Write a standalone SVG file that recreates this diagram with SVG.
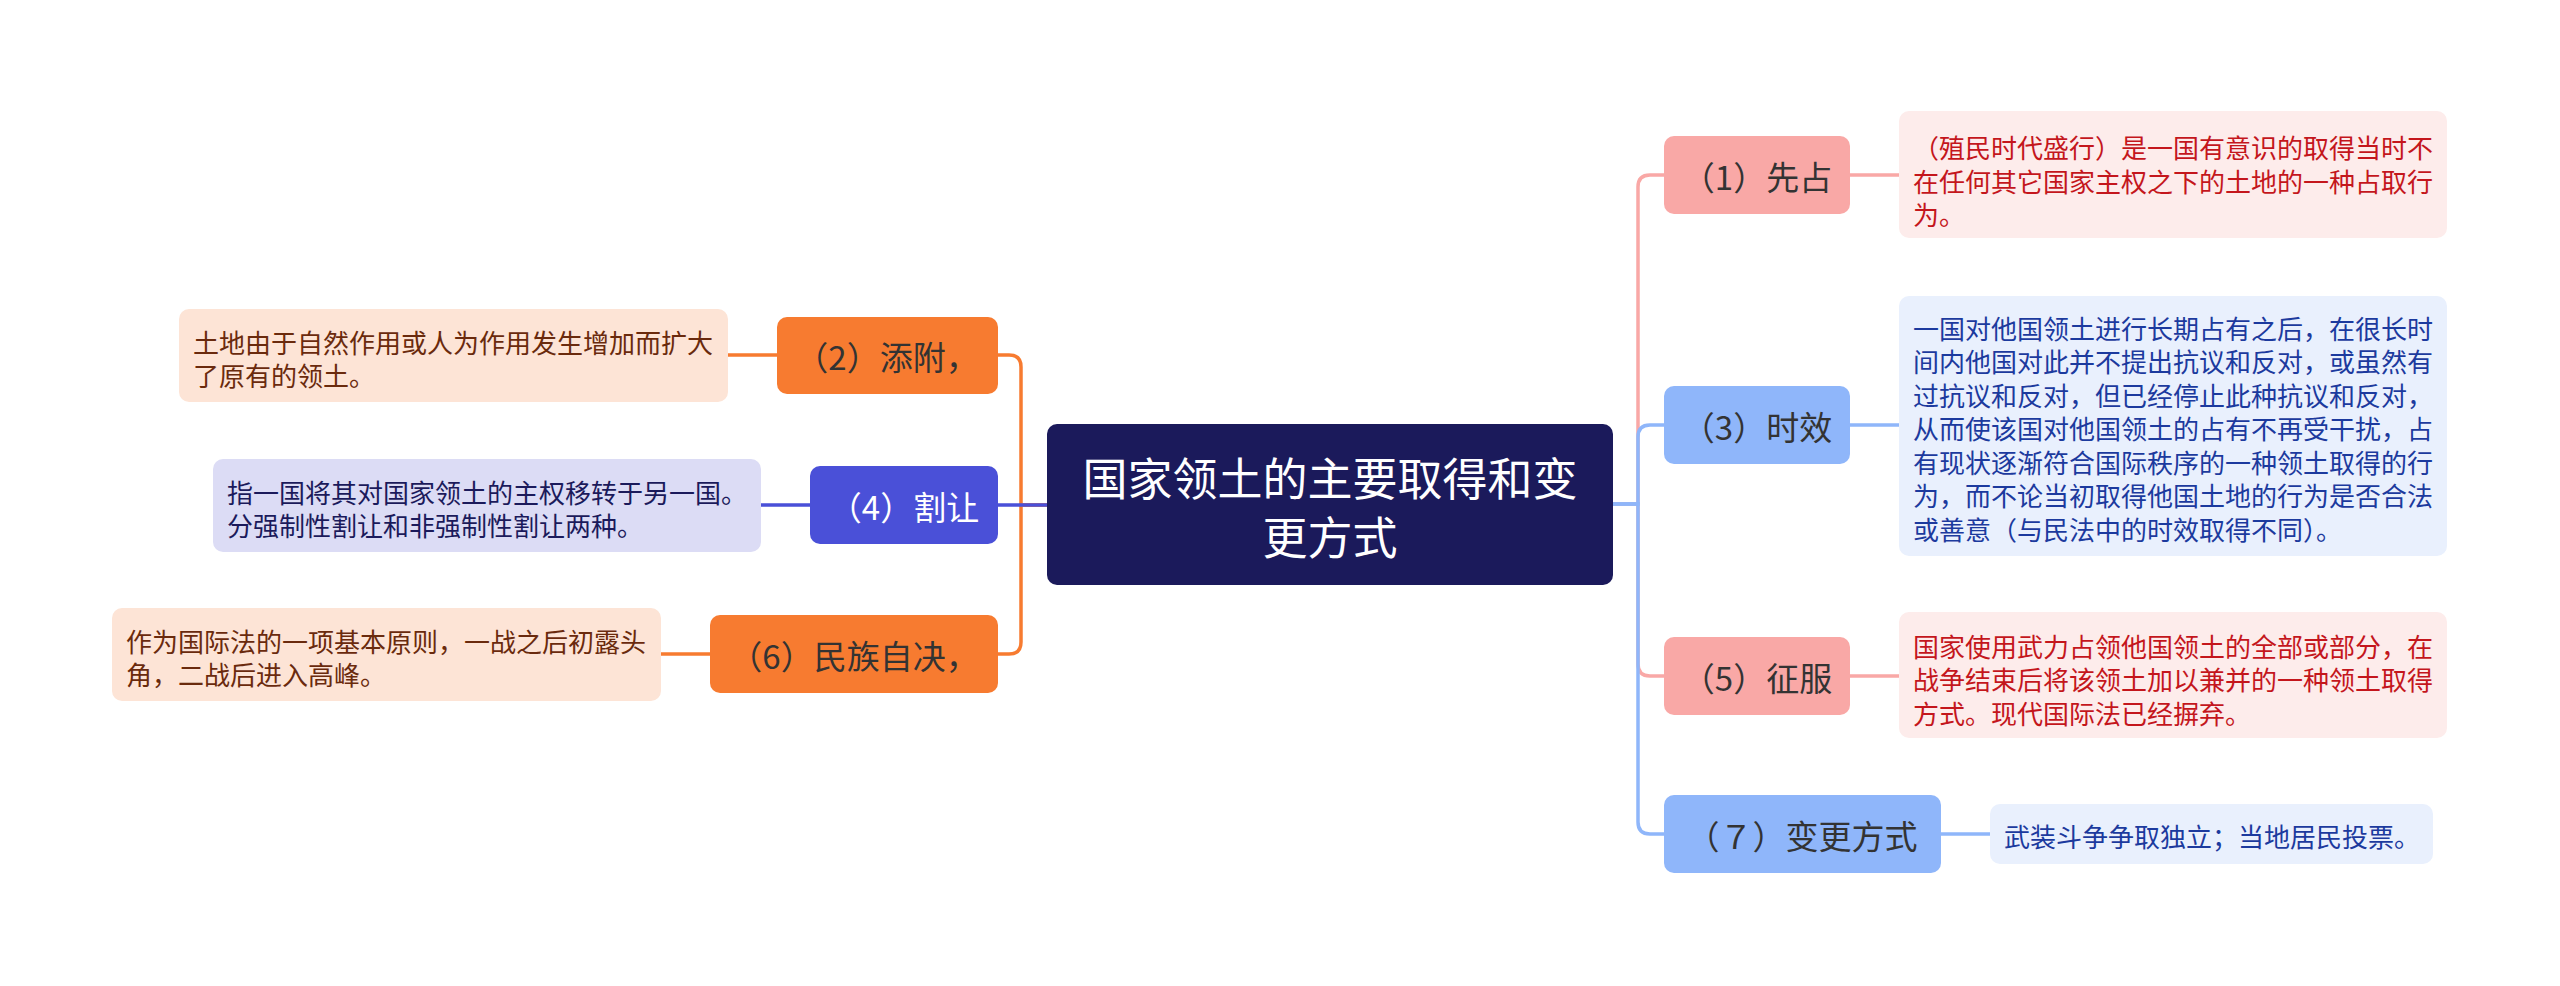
<svg xmlns="http://www.w3.org/2000/svg" width="2560" height="986" viewBox="0 0 2560 986">
<style>
text{font-family:"Noto Sans CJK SC","Noto Sans",sans-serif;dominant-baseline:central}
.node{font-size:33px;fill:#333;text-anchor:middle}
.desc{font-size:26px}
.ln{fill:none;stroke-width:3.5;stroke-linecap:round}
.pk{stroke:#f9a8a6}.bl{stroke:#8fb6fa}.or{stroke:#f77b30}.vi{stroke:#4a50d8}
.dpk{fill:#c4161c}.dbl{fill:#1c3a9e}.dor{fill:#6a2a0d}.dvi{fill:#1b1a5b}
</style>
<rect width="2560" height="986" fill="#ffffff"/>
<g id="connectors">
<path class="ln pk" d="M1613,504 H1638 V187 Q1638,175 1650,175 H1664"/>
<path class="ln pk" d="M1613,504 H1638 V664 Q1638,676 1650,676 H1664"/>
<path class="ln bl" d="M1613,504 H1638 V437 Q1638,425 1650,425 H1664"/>
<path class="ln bl" d="M1613,504 H1638 V822 Q1638,834 1650,834 H1664"/>
<path class="ln pk" d="M1850,175 H1899"/>
<path class="ln bl" d="M1850,425 H1899"/>
<path class="ln pk" d="M1850,676 H1899"/>
<path class="ln bl" d="M1941,834 H1990"/>
<path class="ln or" d="M1047,505 H1021 V367 Q1021,355 1009,355 H998"/>
<path class="ln or" d="M1047,505 H1021 V642 Q1021,654 1009,654 H998"/>
<path class="ln vi" d="M1047,505 H998"/>
<path class="ln or" d="M777,355 H728"/>
<path class="ln vi" d="M810,505 H761"/>
<path class="ln or" d="M710,654 H661"/>
</g>
<g id="center">
<rect x="1047" y="424" width="566" height="161" rx="10" fill="#1b1a5b"/>
<text x="1330" y="476" font-size="45" fill="#ffffff" text-anchor="middle">国家领土的主要取得和变</text>
<text x="1330" y="535" font-size="45" fill="#ffffff" text-anchor="middle">更方式</text>
</g>
<g id="n1">
<rect x="1664" y="136" width="186" height="78" rx="10" fill="#f9a8a6"/>
<text class="node" x="1757" y="176">（1）先占</text>
</g>
<g id="d1">
<rect x="1899" y="111" width="548" height="127" rx="10" fill="#fdeceb"/>
<text class="desc dpk" x="1913" y="146">（殖民时代盛行）是一国有意识的取得当时不</text>
<text class="desc dpk" x="1913" y="180">在任何其它国家主权之下的土地的一种占取行</text>
<text class="desc dpk" x="1913" y="213">为。</text>
</g>
<g id="n3">
<rect x="1664" y="386" width="186" height="78" rx="10" fill="#8fb6fa"/>
<text class="node" x="1757" y="426">（3）时效</text>
</g>
<g id="d3">
<rect x="1899" y="296" width="548" height="260" rx="10" fill="#e9f0fd"/>
<text class="desc dbl" x="1913" y="327">一国对他国领土进行长期占有之后，在很长时</text>
<text class="desc dbl" x="1913" y="360.5">间内他国对此并不提出抗议和反对，或虽然有</text>
<text class="desc dbl" x="1913" y="394">过抗议和反对，但已经停止此种抗议和反对，</text>
<text class="desc dbl" x="1913" y="427.5">从而使该国对他国领土的占有不再受干扰，占</text>
<text class="desc dbl" x="1913" y="461">有现状逐渐符合国际秩序的一种领土取得的行</text>
<text class="desc dbl" x="1913" y="494.5">为，而不论当初取得他国土地的行为是否合法</text>
<text class="desc dbl" x="1913" y="528">或善意（与民法中的时效取得不同）。</text>
</g>
<g id="n5">
<rect x="1664" y="637" width="186" height="78" rx="10" fill="#f9a8a6"/>
<text class="node" x="1757" y="677">（5）征服</text>
</g>
<g id="d5">
<rect x="1899" y="612" width="548" height="126" rx="10" fill="#fdeceb"/>
<text class="desc dpk" x="1913" y="645">国家使用武力占领他国领土的全部或部分，在</text>
<text class="desc dpk" x="1913" y="678.5">战争结束后将该领土加以兼并的一种领土取得</text>
<text class="desc dpk" x="1913" y="712">方式。现代国际法已经摒弃。</text>
</g>
<g id="n7">
<rect x="1664" y="795" width="277" height="78" rx="10" fill="#8fb6fa"/>
<text class="node" x="1802" y="835">（７）变更方式</text>
</g>
<g id="d7">
<rect x="1990" y="804" width="443" height="60" rx="10" fill="#e9f0fd"/>
<text class="desc dbl" x="2004" y="835">武装斗争争取独立；当地居民投票。</text>
</g>
<g id="n2">
<rect x="777" y="317" width="221" height="77" rx="10" fill="#f77b30"/>
<text class="node" x="887" y="356">（2）添附，</text>
</g>
<g id="d2">
<rect x="179" y="309" width="549" height="93" rx="10" fill="#fde4d6"/>
<text class="desc dor" x="193" y="341">土地由于自然作用或人为作用发生增加而扩大</text>
<text class="desc dor" x="193" y="374.5">了原有的领土。</text>
</g>
<g id="n4">
<rect x="810" y="466" width="188" height="78" rx="10" fill="#4a50d8"/>
<text class="node" x="904" y="506" style="fill:#ffffff">（4）割让</text>
</g>
<g id="d4">
<rect x="213" y="459" width="548" height="93" rx="10" fill="#dcdcf5"/>
<text class="desc dvi" x="227" y="491">指一国将其对国家领土的主权移转于另一国。</text>
<text class="desc dvi" x="227" y="524.5">分强制性割让和非强制性割让两种。</text>
</g>
<g id="n6">
<rect x="710" y="615" width="288" height="78" rx="10" fill="#f77b30"/>
<text class="node" x="854" y="655">（6）民族自决，</text>
</g>
<g id="d6">
<rect x="112" y="608" width="549" height="93" rx="10" fill="#fde4d6"/>
<text class="desc dor" x="126" y="640">作为国际法的一项基本原则，一战之后初露头</text>
<text class="desc dor" x="126" y="673.5">角，二战后进入高峰。</text>
</g>
</svg>
